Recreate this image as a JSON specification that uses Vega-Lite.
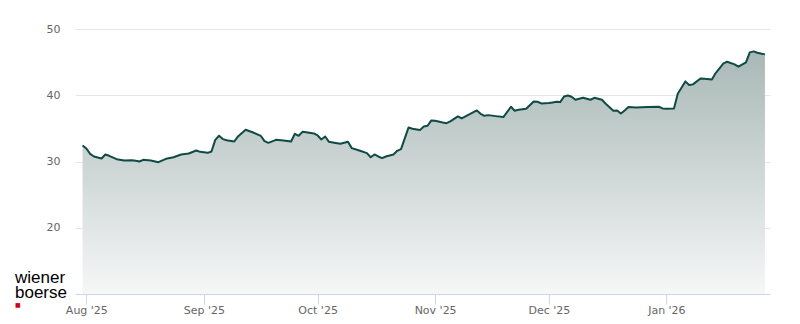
{
  "$schema": "https://vega.github.io/schema/vega-lite/v6.json",
  "autosize": "none",
  "width": 695,
  "height": 265,
  "padding": {"left": 75, "top": 29, "right": 30, "bottom": 30},
  "background": "#ffffff",
  "config": {"view": {"stroke": null}},
  "title": {
    "text": ["wiener", "boerse"],
    "subtitle": "■",
    "orient": "bottom",
    "anchor": "start",
    "frame": "group",
    "font": "Liberation Sans",
    "fontSize": 17,
    "fontWeight": "normal",
    "lineHeight": 15,
    "color": "#000000",
    "subtitleColor": "#d0021b",
    "subtitleFont": "DejaVu Sans",
    "subtitleFontSize": 6,
    "subtitlePadding": 0,
    "offset": 0,
    "dx": -60,
    "dy": -45
  },
  "data": {
    "values": [
      {"date": "2025-07-31", "price": 32.42},
      {"date": "2025-08-01", "price": 31.96},
      {"date": "2025-08-02", "price": 31.16},
      {"date": "2025-08-03", "price": 30.76},
      {"date": "2025-08-05", "price": 30.45},
      {"date": "2025-08-06", "price": 31.06},
      {"date": "2025-08-07", "price": 30.86},
      {"date": "2025-08-09", "price": 30.35},
      {"date": "2025-08-11", "price": 30.15},
      {"date": "2025-08-13", "price": 30.2},
      {"date": "2025-08-14", "price": 30.1},
      {"date": "2025-08-15", "price": 30.0},
      {"date": "2025-08-16", "price": 30.25},
      {"date": "2025-08-18", "price": 30.15},
      {"date": "2025-08-20", "price": 29.9},
      {"date": "2025-08-22", "price": 30.4},
      {"date": "2025-08-24", "price": 30.65},
      {"date": "2025-08-26", "price": 31.06},
      {"date": "2025-08-28", "price": 31.21},
      {"date": "2025-08-30", "price": 31.66},
      {"date": "2025-08-31", "price": 31.46},
      {"date": "2025-09-02", "price": 31.31},
      {"date": "2025-09-03", "price": 31.51},
      {"date": "2025-09-04", "price": 33.27},
      {"date": "2025-09-05", "price": 33.88},
      {"date": "2025-09-06", "price": 33.38},
      {"date": "2025-09-07", "price": 33.22},
      {"date": "2025-09-09", "price": 33.02},
      {"date": "2025-09-10", "price": 33.78},
      {"date": "2025-09-12", "price": 34.79},
      {"date": "2025-09-14", "price": 34.38},
      {"date": "2025-09-16", "price": 33.88},
      {"date": "2025-09-17", "price": 33.07},
      {"date": "2025-09-18", "price": 32.82},
      {"date": "2025-09-20", "price": 33.27},
      {"date": "2025-09-22", "price": 33.17},
      {"date": "2025-09-24", "price": 33.02},
      {"date": "2025-09-25", "price": 34.18},
      {"date": "2025-09-26", "price": 33.88},
      {"date": "2025-09-27", "price": 34.48},
      {"date": "2025-09-28", "price": 34.43},
      {"date": "2025-09-30", "price": 34.23},
      {"date": "2025-10-01", "price": 33.93},
      {"date": "2025-10-02", "price": 33.32},
      {"date": "2025-10-03", "price": 33.78},
      {"date": "2025-10-04", "price": 32.97},
      {"date": "2025-10-05", "price": 32.87},
      {"date": "2025-10-07", "price": 32.67},
      {"date": "2025-10-09", "price": 32.97},
      {"date": "2025-10-10", "price": 32.02},
      {"date": "2025-10-12", "price": 31.66},
      {"date": "2025-10-14", "price": 31.26},
      {"date": "2025-10-15", "price": 30.65},
      {"date": "2025-10-16", "price": 31.06},
      {"date": "2025-10-17", "price": 30.76},
      {"date": "2025-10-18", "price": 30.5},
      {"date": "2025-10-19", "price": 30.76},
      {"date": "2025-10-21", "price": 31.06},
      {"date": "2025-10-22", "price": 31.61},
      {"date": "2025-10-23", "price": 31.86},
      {"date": "2025-10-25", "price": 35.14},
      {"date": "2025-10-26", "price": 34.94},
      {"date": "2025-10-28", "price": 34.74},
      {"date": "2025-10-29", "price": 35.29},
      {"date": "2025-10-30", "price": 35.39},
      {"date": "2025-10-31", "price": 36.2},
      {"date": "2025-11-01", "price": 36.15},
      {"date": "2025-11-03", "price": 35.89},
      {"date": "2025-11-04", "price": 35.79},
      {"date": "2025-11-05", "price": 36.05},
      {"date": "2025-11-07", "price": 36.8},
      {"date": "2025-11-08", "price": 36.5},
      {"date": "2025-11-09", "price": 36.8},
      {"date": "2025-11-10", "price": 37.1},
      {"date": "2025-11-12", "price": 37.71},
      {"date": "2025-11-13", "price": 37.2},
      {"date": "2025-11-14", "price": 36.9},
      {"date": "2025-11-15", "price": 37.0},
      {"date": "2025-11-17", "price": 36.85},
      {"date": "2025-11-19", "price": 36.7},
      {"date": "2025-11-21", "price": 38.26},
      {"date": "2025-11-22", "price": 37.66},
      {"date": "2025-11-23", "price": 37.81},
      {"date": "2025-11-25", "price": 37.96},
      {"date": "2025-11-27", "price": 39.07},
      {"date": "2025-11-28", "price": 39.02},
      {"date": "2025-11-29", "price": 38.77},
      {"date": "2025-12-01", "price": 38.82},
      {"date": "2025-12-02", "price": 38.92},
      {"date": "2025-12-03", "price": 39.02},
      {"date": "2025-12-04", "price": 38.97},
      {"date": "2025-12-05", "price": 39.82},
      {"date": "2025-12-06", "price": 39.97},
      {"date": "2025-12-07", "price": 39.77},
      {"date": "2025-12-08", "price": 39.32},
      {"date": "2025-12-10", "price": 39.62},
      {"date": "2025-12-11", "price": 39.47},
      {"date": "2025-12-12", "price": 39.32},
      {"date": "2025-12-13", "price": 39.62},
      {"date": "2025-12-14", "price": 39.47},
      {"date": "2025-12-15", "price": 39.32},
      {"date": "2025-12-16", "price": 38.72},
      {"date": "2025-12-18", "price": 37.66},
      {"date": "2025-12-19", "price": 37.71},
      {"date": "2025-12-20", "price": 37.25},
      {"date": "2025-12-21", "price": 37.71},
      {"date": "2025-12-22", "price": 38.21},
      {"date": "2025-12-24", "price": 38.16},
      {"date": "2025-12-27", "price": 38.21},
      {"date": "2025-12-30", "price": 38.26},
      {"date": "2025-12-31", "price": 38.01},
      {"date": "2026-01-01", "price": 37.96},
      {"date": "2026-01-03", "price": 38.01},
      {"date": "2026-01-04", "price": 40.23},
      {"date": "2026-01-06", "price": 42.09},
      {"date": "2026-01-07", "price": 41.54},
      {"date": "2026-01-08", "price": 41.64},
      {"date": "2026-01-10", "price": 42.54},
      {"date": "2026-01-11", "price": 42.49},
      {"date": "2026-01-13", "price": 42.39},
      {"date": "2026-01-14", "price": 43.35},
      {"date": "2026-01-16", "price": 44.76},
      {"date": "2026-01-17", "price": 45.06},
      {"date": "2026-01-19", "price": 44.66},
      {"date": "2026-01-20", "price": 44.31},
      {"date": "2026-01-22", "price": 44.96},
      {"date": "2026-01-23", "price": 46.47},
      {"date": "2026-01-24", "price": 46.62},
      {"date": "2026-01-25", "price": 46.42},
      {"date": "2026-01-27", "price": 46.17}
    ]
  },
  "encoding": {
    "x": {
      "field": "date",
      "type": "temporal",
      "scale": {
        "type": "utc",
        "domain": [
          {"year": 2025, "month": 7, "date": 29, "utc": true},
          {"year": 2026, "month": 1, "date": 28, "hours": 8, "utc": true}
        ]
      },
      "axis": {
        "title": null,
        "labelExpr": "utcFormat(datum.value, \"%b '%y\")",
        "tickCount": {"interval": "month", "step": 1},
        "grid": false,
        "domainColor": "#ccd6eb",
        "domainWidth": 1,
        "tickColor": "#ccd6eb",
        "tickSize": 10,
        "labelPadding": 0,
        "labelColor": "#666666",
        "labelFont": "DejaVu Sans",
        "labelFontSize": 11,
        "labelFlush": false,
        "zindex": 1
      }
    },
    "y": {
      "field": "price",
      "type": "quantitative",
      "scale": {"domain": [10, 50], "nice": false, "zero": false},
      "axis": {
        "title": null,
        "values": [20, 30, 40, 50],
        "domain": false,
        "ticks": false,
        "labelPadding": 15,
        "labelColor": "#666666",
        "labelFont": "DejaVu Sans",
        "labelFontSize": 11,
        "gridColor": "#e6e6e6",
        "gridWidth": 1
      }
    }
  },
  "layer": [
    {
      "mark": {
        "type": "area",
        "line": false,
        "color": {
          "gradient": "linear",
          "x1": 0, "y1": 0, "x2": 0, "y2": 1,
          "stops": [
            {"offset": 0, "color": "#a8b8b6"},
            {"offset": 1, "color": "#f6f7f7"}
          ]
        }
      },
      "encoding": {"y2": {"datum": 10}}
    },
    {
      "mark": {"type": "line", "color": "#0f4a44", "strokeWidth": 2, "strokeJoin": "round"}
    }
  ]
}
